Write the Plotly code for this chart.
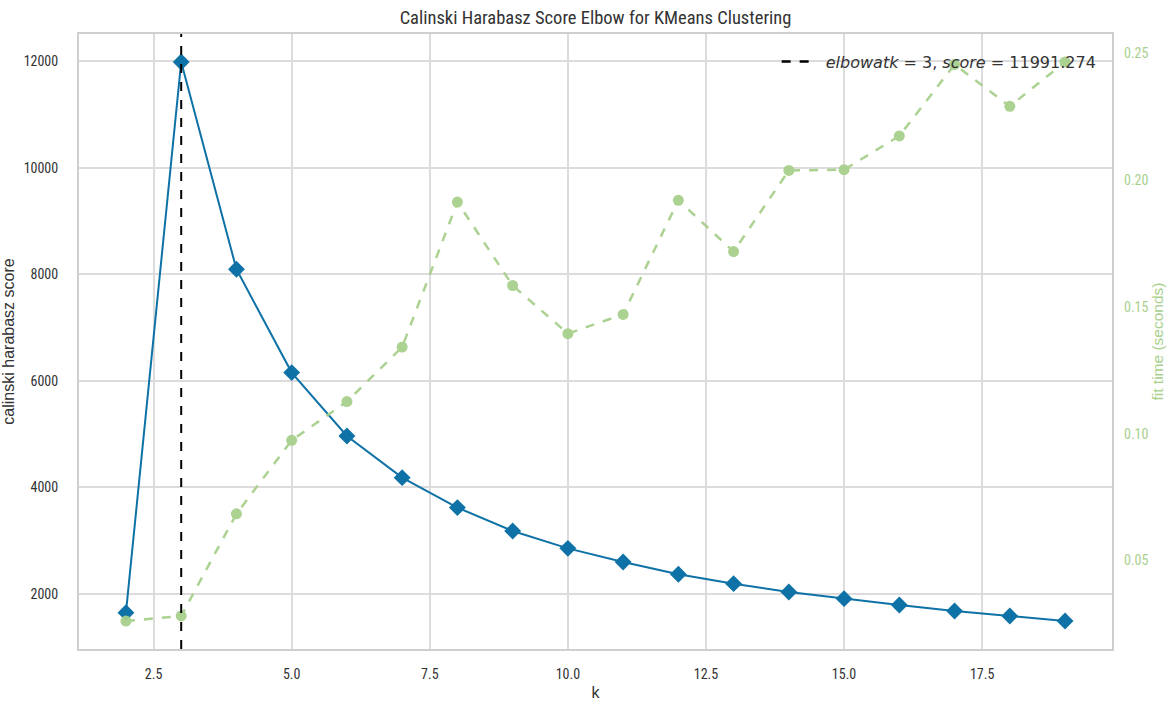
import plotly.graph_objects as go

k_values = list(range(2, 20))
scores = [1643, 11991.274, 8096, 6154, 4962, 4180, 3617, 3177, 2851, 2594,
          2363, 2188, 2030, 1906, 1786, 1673, 1579, 1485]
fit_times = [0.0261, 0.0281, 0.0684, 0.0974, 0.1127, 0.1342, 0.1914, 0.1585,
             0.1395, 0.1471, 0.1921, 0.1719, 0.2039, 0.2042, 0.2175, 0.2457,
             0.2292, 0.2467]
elbow_k = 3
elbow_score = 11991.274

title = "Calinski Harabasz Score Elbow for KMeans Clustering"
x_label = "k"
y_label = "calinski harabasz score"
y2_label = "fit time (seconds)"

BLUE = "#0E72A6"
GREEN = "#A8D08D"
GRID = "#DCDCDC"
FRAME = "#CFCFCF"
TXT = "#333333"
NARROW = "Liberation Sans Narrow, Arial Narrow, Roboto Condensed, Liberation Sans, sans-serif"
REG = "Liberation Sans, Arial, sans-serif"

fig = go.Figure()

fig.add_trace(go.Scatter(
    x=k_values, y=fit_times, yaxis="y2", mode="lines+markers",
    line=dict(color=GREEN, width=2.5, dash="dash"),
    marker=dict(symbol="circle", size=11, color=GREEN),
    opacity=0.95, showlegend=False, hoverinfo="x+y"))

fig.add_trace(go.Scatter(
    x=k_values, y=scores, mode="lines+markers",
    line=dict(color=BLUE, width=2),
    marker=dict(symbol="diamond", size=13, color=BLUE),
    showlegend=False))

# legend-only entry for the elbow line
fig.add_trace(go.Scatter(
    x=[None], y=[None], mode="lines",
    line=dict(color="black", width=2.5, dash="dash"),
    name=f"&nbsp;<i>elbowatk</i> = {elbow_k}, <i>score</i> = {elbow_score:.3f}",
    showlegend=True))

fig.add_shape(type="line", xref="x", yref="paper",
              x0=elbow_k, x1=elbow_k, y0=0, y1=1,
              line=dict(color="black", width=2, dash="dash"), layer="above")

x_pad = (max(k_values) - min(k_values)) * 0.05
s_pad = (max(scores) - min(scores)) * 0.05
t_pad = (max(fit_times) - min(fit_times)) * 0.05

fig.update_layout(
    width=1168, height=701,
    margin=dict(l=79, r=56, t=34, b=52),
    paper_bgcolor="white", plot_bgcolor="white",
    title=dict(text=title, x=0.5, xref="paper", xanchor="center",
               y=1 - 18 / 701, yref="container", yanchor="middle",
               font=dict(family=NARROW, size=18.5, color=TXT)),
    xaxis=dict(range=[min(k_values) - x_pad, max(k_values) + x_pad],
               tick0=0, dtick=2.5, tickformat=".1f", automargin=False,
               showgrid=True, gridcolor=GRID, gridwidth=1.5,
               showline=True, linecolor=FRAME, linewidth=2, mirror=True,
               zeroline=False, ticks="", ticklabelstandoff=11,
               tickfont=dict(family=NARROW, size=14, color=TXT),
               title=dict(text=x_label, standoff=12,
                          font=dict(family=REG, size=16, color=TXT))),
    yaxis=dict(range=[min(scores) - s_pad, max(scores) + s_pad],
               tick0=0, dtick=2000, tickformat="d", automargin=False,
               showgrid=True, gridcolor=GRID, gridwidth=1.5,
               showline=True, linecolor=FRAME, linewidth=2, mirror=True,
               zeroline=False, ticks="", ticklabelstandoff=16,
               tickfont=dict(family=NARROW, size=14, color=TXT),
               title=dict(text=y_label, standoff=8,
                          font=dict(family=REG, size=16, color=TXT))),
    yaxis2=dict(overlaying="y", side="right", automargin=False,
                range=[min(fit_times) - t_pad, max(fit_times) + t_pad],
                tick0=0, dtick=0.05, tickformat=".2f",
                showgrid=False, showline=False, zeroline=False, ticks="",
                ticklabelstandoff=11,
                tickfont=dict(family=NARROW, size=14, color=GREEN),
                title=dict(text=y2_label, standoff=4,
                           font=dict(family=REG, size=15.5, color=GREEN))),
    legend=dict(x=0.99, xanchor="right", y=0.955, yanchor="middle",
                bgcolor="rgba(0,0,0,0)", borderwidth=0, itemwidth=34,
                font=dict(family="DejaVu Sans", size=16, color=TXT)),
    showlegend=True,
)

fig.write_html("out.html")
